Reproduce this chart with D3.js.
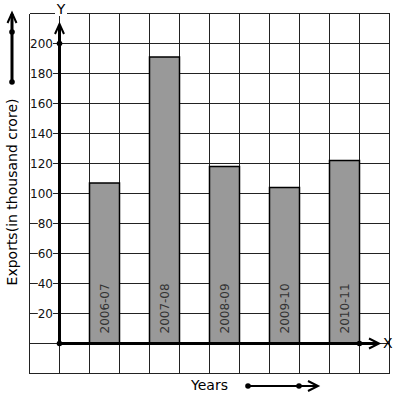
<!DOCTYPE html>
<meta charset="utf-8">
<style>
body { margin: 0; background: #fff; }
svg text { font-family: "DejaVu Sans", sans-serif; }
.grid line { stroke: #222; stroke-width: 1; shape-rendering: crispEdges; }
.bar { fill: #999; stroke: #000; stroke-width: 1.5; }
.axisline { stroke: #000; stroke-width: 3; fill: none; }
.thin { stroke: #000; stroke-width: 2; fill: none; }
</style>
<svg width="397" height="399"></svg>
<script src="https://d3js.org/d3.v7.min.js"></script>
<script>
// exports per year, thousand crore
var years = ["2006-07", "2007-08", "2008-09", "2009-10", "2010-11"];
var exportsVal = [107, 191, 118, 104, 122];
var yTicks = [20, 40, 60, 80, 100, 120, 140, 160, 180, 200];

var svg = d3.select("svg");

// graph paper: one square = 1 column unit / 20 crore units
var x = d3.scaleLinear().domain([-1, 11]).range([29.5, 389.5]);
var y = d3.scaleLinear().domain([-20, 220]).range([373.5, 13.5]);

var grid = svg.append("g").attr("class", "grid");
grid.selectAll("line.v").data(d3.range(-1, 12)).enter().append("line")
  .attr("x1", function(d) { return x(d); }).attr("x2", function(d) { return x(d); })
  .attr("y1", y(220)).attr("y2", y(-20));
grid.selectAll("line.h").data(d3.range(-20, 221, 20)).enter().append("line")
  .attr("y1", function(d) { return y(d); }).attr("y2", function(d) { return y(d); })
  .attr("x1", x(-1)).attr("x2", x(11));

// bars sit in every other square after the y axis
svg.selectAll("rect.bar").data(years).enter().append("rect")
  .attr("class", "bar")
  .attr("x", function(d, i) { return x(2 * i + 1); })
  .attr("width", x(1) - x(0))
  .attr("y", function(d, i) { return y(exportsVal[i]); })
  .attr("height", function(d, i) { return y(0) - y(exportsVal[i]); });

svg.selectAll("text.yr").data(years).enter().append("text")
  .attr("class", "yr")
  .attr("transform", function(d, i) {
    return "translate(" + (x(2 * i + 1.5) + 4) + "," + (y(0) - 10) + ") rotate(-90)";
  })
  .attr("font-size", 12).attr("fill", "#333")
  .text(function(d) { return d; });

// tick labels with white backing over the grid
var tl = svg.append("g").selectAll("g").data(yTicks).enter().append("g");
tl.append("rect")
  .attr("x", function(d) { return 53 - (String(d).length * 7.6); })
  .attr("y", function(d) { return y(d) - 5; })
  .attr("width", function(d) { return String(d).length * 7.6; })
  .attr("height", 10).attr("fill", "#fff");
tl.append("text")
  .attr("x", 53).attr("y", function(d) { return y(d) + 4.5; })
  .attr("text-anchor", "end").attr("font-size", 12).attr("fill", "#111")
  .text(function(d) { return d; });

function chevron(g, tx, ty, dir) {
  // open arrow head pointing up or right
  var p = dir == "up"
    ? [[tx - 4.5, ty + 10], [tx, ty], [tx + 4.5, ty + 10]]
    : [[tx - 10, ty - 5], [tx, ty], [tx - 10, ty + 5]];
  g.append("path").attr("class", "thin").attr("d", d3.line()(p));
}
function dot(g, cx, cy) {
  g.append("circle").attr("cx", cx).attr("cy", cy).attr("r", 2.8).attr("fill", "#000");
}

var ax = svg.append("g");
// y axis
ax.append("line").attr("class", "axisline")
  .attr("x1", x(0)).attr("x2", x(0)).attr("y1", y(0)).attr("y2", 25);
chevron(ax, x(0), 24, "up");
dot(ax, x(0), y(200));
// x axis
ax.append("line").attr("class", "axisline")
  .attr("x1", x(0)).attr("x2", 378).attr("y1", y(0)).attr("y2", y(0));
chevron(ax, 379, y(0), "right");
dot(ax, x(10), y(0));
dot(ax, x(0), y(0));

ax.append("rect").attr("x", 55).attr("y", 2).attr("width", 12).attr("height", 14).attr("fill", "#fff");
ax.append("text").attr("x", 61).attr("y", 14).attr("text-anchor", "middle")
  .attr("font-size", 14).text("Y");
ax.append("text").attr("x", 383).attr("y", 348).attr("font-size", 14).text("X");

// y title and its arrow
ax.append("text")
  .attr("transform", "translate(17,192) rotate(-90)")
  .attr("text-anchor", "middle").attr("font-size", 14)
  .text("Exports(in thousand crore)");
ax.append("line").attr("class", "axisline")
  .attr("x1", 12).attr("x2", 12).attr("y1", 82).attr("y2", 14);
chevron(ax, 12, 13, "up");
dot(ax, 12, 32);
dot(ax, 12, 82);

// x title and its arrow
ax.append("text").attr("x", 191).attr("y", 390).attr("font-size", 14).text("Years");
ax.append("line").attr("class", "thin")
  .attr("x1", 248).attr("x2", 317).attr("y1", 386).attr("y2", 386);
chevron(ax, 318, 386, "right");
dot(ax, 248, 386);
dot(ax, 299, 386);
</script>
